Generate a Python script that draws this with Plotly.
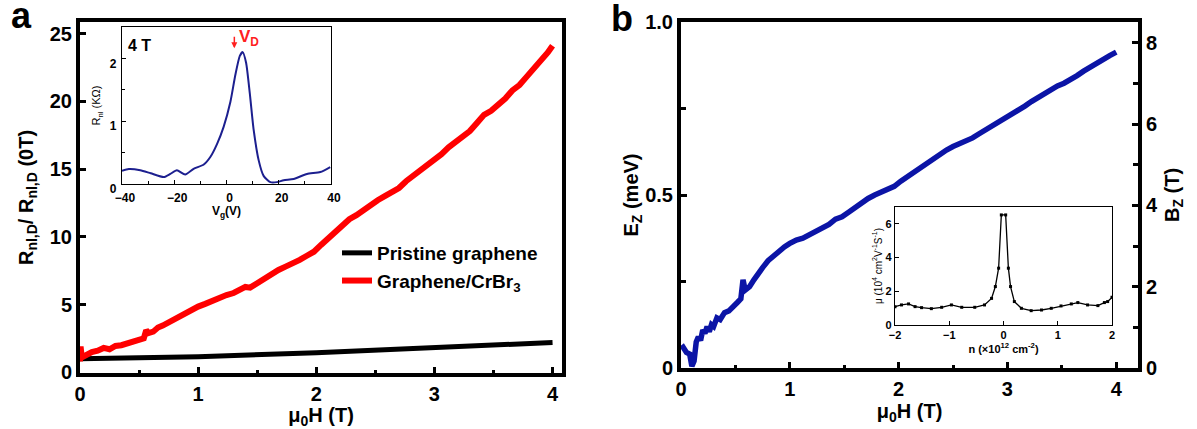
import plotly.graph_objects as go

W, H = 1197, 429

# ---------------- Panel a: main data ----------------
h_red = [0.00, 0.005, 0.015, 0.05, 0.10, 0.15, 0.20, 0.25, 0.30, 0.35, 0.40, 0.45, 0.50, 0.54, 0.56, 0.58,
         0.62, 0.66, 0.70, 0.75, 0.80, 0.85, 0.90, 0.95, 1.00, 1.06, 1.12, 1.18, 1.24, 1.30, 1.36, 1.40,
         1.44, 1.50, 1.56, 1.62, 1.68, 1.74, 1.80, 1.86, 1.92, 1.98, 2.04, 2.10, 2.16, 2.22, 2.28, 2.34,
         2.40, 2.46, 2.52, 2.58, 2.64, 2.70, 2.76, 2.82, 2.88, 2.94, 3.00, 3.06, 3.12, 3.18, 3.24, 3.30,
         3.36, 3.42, 3.48, 3.54, 3.60, 3.66, 3.72, 3.78, 3.84, 3.90, 3.96, 4.00]
r_red = [0.8, 1.9, 1.1, 1.3, 1.5, 1.6, 1.8, 1.7, 1.95, 2.0, 2.15, 2.25, 2.4, 2.5, 3.1, 2.9,
         3.0, 3.3, 3.45, 3.7, 3.9, 4.2, 4.4, 4.6, 4.85, 5.05, 5.3, 5.45, 5.7, 5.85, 6.1, 6.3,
         6.25, 6.6, 6.9, 7.2, 7.55, 7.8, 8.0, 8.3, 8.6, 8.9, 9.4, 9.9, 10.4, 10.8, 11.3, 11.6,
         12.0, 12.4, 12.7, 13.0, 13.3, 13.6, 14.1, 14.5, 14.8, 15.2, 15.7, 16.1, 16.6, 17.0, 17.4, 17.8,
         18.4, 19.0, 19.3, 19.7, 20.2, 20.8, 21.2, 21.8, 22.4, 22.9, 23.6, 24.1]

h_black = [0.0, 1.0, 2.0, 3.0, 4.0]
r_black = [1.0, 1.15, 1.45, 1.8, 2.2]

# ---------------- Panel a: inset ----------------
vg = [-40, -37.4, -33, -29, -24, -21.5, -19, -15.8, -12.6, -8.7, -6.2, -3.6, -1.1, 1.5, 3.4, 5.1,
      6.2, 7.5, 8.9, 10.4, 12.3, 14.2, 16.8, 19.3, 21.9, 25.7, 30.8, 35.9, 39.7]
rnl = [0.21, 0.24, 0.22, 0.17, 0.11, 0.16, 0.22, 0.15, 0.24, 0.31, 0.43, 0.64, 0.91, 1.31, 1.74, 2.04,
       2.10, 1.93, 1.45, 0.86, 0.38, 0.13, 0.03, 0.03, 0.06, 0.08, 0.16, 0.19, 0.27]

# ---------------- Panel b: main data ----------------
h_b = [0.0, 0.02, 0.05, 0.08, 0.10, 0.12, 0.14, 0.16, 0.18, 0.20, 0.22, 0.24, 0.26, 0.28, 0.30, 0.33,
       0.36, 0.40, 0.44, 0.48, 0.52, 0.55, 0.57, 0.59, 0.63, 0.67, 0.71, 0.75, 0.80, 0.85, 0.90, 0.95,
       1.00, 1.06, 1.12, 1.18, 1.24, 1.30, 1.36, 1.42, 1.48, 1.54, 1.60, 1.66, 1.72, 1.78, 1.84, 1.90,
       1.96, 2.02, 2.08, 2.14, 2.20, 2.26, 2.32, 2.38, 2.44, 2.50, 2.56, 2.62, 2.68, 2.74, 2.80, 2.86,
       2.92, 2.98, 3.04, 3.10, 3.16, 3.22, 3.28, 3.34, 3.40, 3.46, 3.52, 3.58, 3.64, 3.70, 3.76, 3.82,
       3.88, 3.94, 4.00]
ez_b = [0.055, 0.06, 0.045, 0.04, 0.005, 0.02, 0.075, 0.09, 0.08, 0.11, 0.10, 0.12, 0.105, 0.125, 0.12, 0.145,
        0.14, 0.16, 0.165, 0.18, 0.19, 0.20, 0.255, 0.225, 0.235, 0.255, 0.27, 0.29, 0.31, 0.325, 0.335, 0.35,
        0.36, 0.37, 0.375, 0.385, 0.395, 0.405, 0.415, 0.43, 0.437, 0.45, 0.465, 0.478, 0.49, 0.50, 0.507, 0.515,
        0.525, 0.54, 0.553, 0.565, 0.58, 0.593, 0.607, 0.62, 0.63, 0.64, 0.648, 0.655, 0.665, 0.677, 0.688, 0.70,
        0.71, 0.722, 0.735, 0.747, 0.757, 0.77, 0.782, 0.795, 0.805, 0.815, 0.823, 0.833, 0.845, 0.858, 0.87, 0.88,
        0.892, 0.903, 0.913]

# ---------------- Panel b: inset ----------------
n_in = [-2.0, -1.88, -1.75, -1.63, -1.51, -1.33, -1.14, -0.96, -0.77, -0.53, -0.35, -0.22, -0.15, -0.09, -0.04,
        0.04, 0.09, 0.13, 0.20, 0.33, 0.51, 0.70, 0.88, 1.06, 1.25, 1.37, 1.55, 1.74, 1.86, 1.92, 2.0]
mu_in = [1.09, 1.19, 1.25, 1.09, 1.03, 0.97, 1.05, 1.19, 1.05, 1.05, 1.19, 1.58, 2.28, 3.37, 6.53,
         6.53, 3.37, 2.28, 1.39, 0.99, 0.85, 0.89, 0.99, 1.13, 1.25, 1.33, 1.19, 1.15, 1.33, 1.39, 1.64]

FONT = "Liberation Sans, Arial, sans-serif"


def px_x(p):
    return p / W


def px_y(p):
    return 1 - p / H


fig = go.Figure()

fig.add_trace(go.Scatter(x=h_black, y=r_black, mode="lines", name="Pristine graphene",
                         line=dict(color="black", width=5), xaxis="x", yaxis="y"))
fig.add_trace(go.Scatter(x=h_red, y=r_red, mode="lines", name="Graphene/CrBr<sub>3</sub>",
                         line=dict(color="#ff0000", width=6), xaxis="x", yaxis="y"))
fig.add_trace(go.Scatter(x=vg, y=rnl, mode="lines", showlegend=False,
                         line=dict(color="#1c1f8f", width=2, shape="spline", smoothing=0.6),
                         xaxis="x2", yaxis="y2"))
fig.add_trace(go.Scatter(x=h_b, y=ez_b, mode="lines", showlegend=False,
                         line=dict(color="#0b14a6", width=5.5), xaxis="x3", yaxis="y3"))
fig.add_trace(go.Scatter(x=[], y=[], mode="lines", showlegend=False, xaxis="x3", yaxis="y4"))
fig.add_trace(go.Scatter(x=n_in, y=mu_in, mode="lines+markers", showlegend=False,
                         line=dict(color="black", width=1.3),
                         marker=dict(symbol="square", size=3, color="black"),
                         xaxis="x5", yaxis="y5"))

big_tick = dict(family=FONT, size=20, color="black", weight="bold")
main_common = dict(showgrid=False, zeroline=False, showline=True, linecolor="black", automargin=False,
                   ticks="inside", tickcolor="black", tickfont=big_tick)

inset_common = dict(showgrid=False, zeroline=False, showline=True, linecolor="black", linewidth=1.2,
                    automargin=False, mirror=True, ticks="inside", tickcolor="black", ticklen=4, tickwidth=1)

fig.update_layout(
    width=W, height=H, autosize=False,
    margin=dict(l=0, r=0, t=0, b=0, autoexpand=False),
    paper_bgcolor="white", plot_bgcolor="white",
    font=dict(family=FONT, color="black"),
    # panel a main
    xaxis=dict(domain=[px_x(80), px_x(562)], range=[0, 4.08], anchor="y",
               tickvals=[0, 1, 2, 3, 4], linewidth=4, mirror=True, ticklen=6, tickwidth=3,
               minor=dict(ticks="inside", dtick=0.5, tick0=0, ticklen=3, tickwidth=3, tickcolor="black"),
               title=dict(text="<b>μ<sub>0</sub>H (T)</b>", font=dict(family=FONT, size=20), standoff=4),
               **main_common),
    yaxis=dict(domain=[px_y(373), px_y(22)], range=[-0.05, 25.85], anchor="x",
               tickvals=[0, 5, 10, 15, 20, 25], linewidth=4, mirror=True, ticklen=6, tickwidth=3,
               title=dict(text="<b>R<sub>nl,D</sub>/ R<sub>nl,D</sub> (0T)</b>", font=dict(family=FONT, size=20),
                          standoff=12),
               **main_common),
    # panel a inset
    xaxis2=dict(domain=[px_x(122), px_x(331)], range=[-40, 40], anchor="y2",
                tickvals=[-40, -20, 0, 20, 40], ticklabelshift=3, ticklabelstandoff=2,
                minor=dict(ticks="inside", dtick=10, tick0=0, ticklen=3, tickcolor="black"),
                tickfont=dict(family=FONT, size=12, weight="bold", color="black"),
                title=dict(text="<b>V<sub>g</sub>(V)</b>", font=dict(family=FONT, size=12), standoff=2),
                **inset_common),
    yaxis2=dict(domain=[px_y(184), px_y(27)], range=[0, 2.5], anchor="x2",
                tickvals=[0, 1, 2], ticklabelshift=5, ticklabelstandoff=2,
                minor=dict(ticks="inside", dtick=0.5, tick0=0, ticklen=3, tickcolor="black"),
                tickfont=dict(family=FONT, size=12, weight="bold", color="black"),
                title=dict(text="R<sub>nl</sub> (KΩ)", font=dict(family=FONT, size=11), standoff=6),
                **inset_common),
    # panel b main
    xaxis3=dict(domain=[px_x(681), px_x(1138)], range=[0, 4.2], anchor="y3",
                tickvals=[0, 1, 2, 3, 4], linewidth=4, mirror=True, ticklen=6, tickwidth=3,
                minor=dict(ticks="inside", dtick=0.5, tick0=0, ticklen=3, tickwidth=3, tickcolor="black"),
                title=dict(text="<b>μ<sub>0</sub>H (T)</b>", font=dict(family=FONT, size=20), standoff=4),
                **main_common),
    yaxis3=dict(domain=[px_y(368), px_y(22)], range=[0, 1.0], anchor="x3",
                tickvals=[0, 0.5, 1.0], ticktext=["0", "0.5", "1.0"], linewidth=4, ticklen=6, tickwidth=3,
                minor=dict(ticks="inside", dtick=0.25, tick0=0, ticklen=5, tickwidth=3, tickcolor="black"),
                title=dict(text="<b>E<sub>Z</sub> (meV)</b>", font=dict(family=FONT, size=20), standoff=2),
                **main_common),
    yaxis4=dict(range=[0, 8.51], anchor="x3", overlaying="y3", side="right",
                tickvals=[0, 2, 4, 6, 8], linewidth=4, ticklen=6, tickwidth=3,
                minor=dict(ticks="inside", dtick=1, tick0=0, ticklen=5, tickwidth=3, tickcolor="black"),
                title=dict(text="<b>B<sub>Z</sub> (T)</b>", font=dict(family=FONT, size=20), standoff=9),
                **main_common),
    # panel b inset
    xaxis5=dict(domain=[px_x(895), px_x(1112)], range=[-2, 2], anchor="y5",
                tickvals=[-2, -1, 0, 1, 2],
                tickfont=dict(family=FONT, size=11, weight="bold", color="black"),
                title=dict(text="<b>n (×10<sup>12</sup> cm<sup>-2</sup>)</b>", font=dict(family=FONT, size=11),
                           standoff=0),
                **inset_common),
    yaxis5=dict(domain=[px_y(325), px_y(207)], range=[0, 7], anchor="x5",
                tickvals=[0, 2, 4, 6],
                tickfont=dict(family=FONT, size=11, weight="bold", color="black"),
                title=dict(text="μ (10<sup>4</sup> cm<sup>2</sup>V<sup>-1</sup>S<sup>-1</sup>)",
                           font=dict(family=FONT, size=10), standoff=1),
                **inset_common),
    legend=dict(x=px_x(337), y=px_y(234), xanchor="left", yanchor="top",
                bgcolor="rgba(0,0,0,0)", font=dict(family=FONT, size=19, weight="bold", color="black"),
                itemwidth=30, tracegroupgap=0),
    showlegend=True,
)

annotations = [
    dict(text="<b>a</b>", x=px_x(9), y=px_y(16), xref="paper", yref="paper", xanchor="left",
         yanchor="middle", showarrow=False, font=dict(family=FONT, size=36, color="black")),
    dict(text="<b>b</b>", x=px_x(609), y=px_y(18), xref="paper", yref="paper", xanchor="left",
         yanchor="middle", showarrow=False, font=dict(family=FONT, size=36, color="black")),
    dict(text="<b>4 T</b>", x=-38.5, y=2.2, xref="x2", yref="y2", xanchor="left", yanchor="middle",
         showarrow=False, font=dict(family=FONT, size=16, color="black")),
    dict(text="", x=3.0, y=2.16, xref="x2", yref="y2", ax=0, ay=-13, showarrow=True,
         arrowhead=2, arrowsize=0.8, arrowwidth=1.5, arrowcolor="#ff2020"),
    dict(text="<b>V<sub>D</sub></b>", x=4.0, y=2.32, xref="x2", yref="y2", xanchor="left", yanchor="middle",
         showarrow=False, font=dict(family=FONT, size=17, color="#ff2020")),
]
fig.update_layout(annotations=annotations)

fig.write_html("out.html")
